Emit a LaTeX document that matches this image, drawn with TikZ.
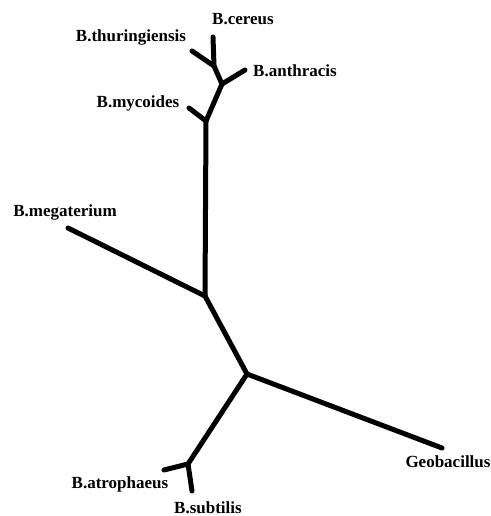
\documentclass[tikz,border=0pt]{standalone}
\usepackage{fontspec}
\setmainfont{Liberation Serif}

\begin{document}
\begin{tikzpicture}[
  x=1bp,y=-1bp,
  taxon/.style={font=\fontsize{17bp}{20bp}\selectfont\bfseries,inner sep=0pt},
  branch/.style={line width=5bp,line cap=round,line join=round},
]
\useasboundingbox (0,0) rectangle (491,516);

% Inner nodes of the tree
\coordinate (cer) at (214,66);
\coordinate (ant) at (222,84);
\coordinate (myc) at (206,121);
\coordinate (meg) at (205,296);
\coordinate (geo) at (247,374);
\coordinate (sub) at (188,464);

% Leaf tips
\coordinate (tcer) at (213,37);
\coordinate (tthu) at (192,51);
\coordinate (tant) at (245,70);
\coordinate (tmyc) at (189,108);
\coordinate (tmeg) at (68,228);
\coordinate (tgeo) at (442,448);
\coordinate (tatr) at (164,470);
\coordinate (tsub) at (192,491);

% Taxon labels
\node[taxon] (lcer) at (243,19) {B.cereus};
\node[taxon] (lthu) at (131,37) {B.thuringiensis};
\node[taxon] (lant) at (295,71) {B.anthracis};
\node[taxon] (lmyc) at (138,103) {B.mycoides};
\node[taxon] (lmeg) at (65,212) {B.megaterium};
\node[taxon] (lgeo) at (448,462) {Geobacillus};
\node[taxon] (latr) at (120,484) {B.atrophaeus};
\node[taxon] (lsub) at (208,508) {B.subtilis};

% Branches
\draw[branch] (tcer) -- (cer);
\draw[branch] (tthu) -- (cer);
\draw[branch] (cer) -- (ant);
\draw[branch] (tant) -- (ant);
\draw[branch] (ant) -- (myc);
\draw[branch] (tmyc) -- (myc);
\draw[branch] (myc) -- (meg);
\draw[branch] (tmeg) -- (meg);
\draw[branch] (meg) -- (geo);
\draw[branch] (geo) -- (tgeo);
\draw[branch] (geo) -- (sub);
\draw[branch] (tatr) -- (sub);
\draw[branch] (sub) -- (tsub);

\end{tikzpicture}
\end{document}
